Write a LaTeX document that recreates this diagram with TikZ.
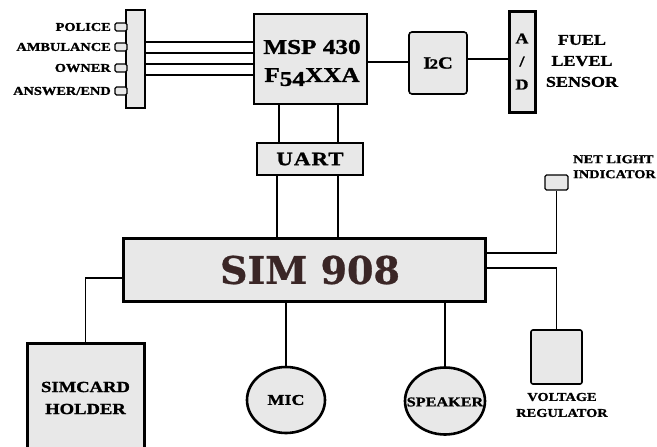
\documentclass[tikz,border=0pt]{standalone}
\usepackage{fontspec}
\setmainfont{Liberation Serif}
\newfontfamily\wide{Liberation Serif}[FakeStretch=1.2, BoldFeatures={FakeBold=1.2}]
\newfontfamily\simfont{DejaVu Serif}[BoldFeatures={FakeBold=0.8}]
\usetikzlibrary{shapes.geometric}
\definecolor{boxfill}{HTML}{E8E8E8}
\definecolor{simtext}{HTML}{3A2626}
\newcommand\myfs[2]{\fontsize{#1}{#2}\selectfont}
\begin{document}
\begin{tikzpicture}[x=1pt,y=-1pt,
  blk/.style={draw, fill=boxfill, line width=1.6pt, inner sep=0pt},
  heavy/.style={draw, fill=boxfill, line width=3pt, inner sep=0pt},
  tabbox/.style={draw, fill=boxfill, line width=1.1pt, rounded corners=1.5pt,
     minimum width=12pt, minimum height=8pt, inner sep=0pt},
  oval/.style={ellipse, draw, fill=boxfill, line width=2.6pt, inner sep=0pt},
  wire/.style={line width=1.3pt},
  lbl/.style={inner sep=0pt, font=\wide\bfseries\myfs{12}{15}},
]
\useasboundingbox (0,0) rectangle (657,447);

% left connector bar and tabs
\node[blk, minimum width=19pt, minimum height=98pt] (bar) at (135.5,59) {};
\node[tabbox] (t1) at (121,27) {};
\node[tabbox] (t2) at (121,47) {};
\node[tabbox] (t3) at (121,68) {};
\node[tabbox] (t4) at (121,91) {};
\node[lbl, anchor=east] (l1) at (111,27) {POLICE};
\node[lbl, anchor=east] (l2) at (111,47) {AMBULANCE};
\node[lbl, anchor=east] (l3) at (111,68) {OWNER};
\node[lbl, anchor=east] (l4) at (111,91) {ANSWER/END};

% MSP
\node[blk, minimum width=113pt, minimum height=90pt] (msp) at (310.5,59) {};
\node[inner sep=0pt, align=center, font=\wide\bfseries\myfs{21}{28}] (msplbl)
      at (312,63) {MSP 430\\F\raisebox{-4pt}{54}XXA};

% I2C
\node[blk, rounded corners=3pt, minimum width=58pt, minimum height=62pt,
      font=\wide\bfseries\myfs{17}{18}] (i2c) at (438,63)
      {I\kern-1.5pt{\myfs{14}{14}2}C};

% A/D
\node[heavy, minimum width=26pt, minimum height=101pt, align=center,
      font=\wide\bfseries\myfs{15}{23}] (ad) at (522,61.5) {A\\/\\D};

% fuel level sensor
\node[lbl, align=center, font=\wide\bfseries\myfs{15}{21}] (fuel) at (582,61)
      {FUEL\\LEVEL\\SENSOR};

% UART
\node[blk, minimum width=106pt, minimum height=32pt,
      font=\wide\bfseries\myfs{19}{19}] (uart) at (310,159)
      {\addfontfeature{LetterSpace=6}UART};

% SIM 908
\node[heavy, minimum width=362pt, minimum height=63pt] (sim) at (304,269.5) {};
\node[inner sep=0pt, text=simtext, font=\simfont\bfseries\myfs{38}{38}] (simlbl)
      at (310,270) {SIM 908};

% net light indicator
\node[tabbox, minimum width=23pt, minimum height=15pt] (net) at (556.5,182.5) {};
\node[lbl, anchor=north west, align=left] (netlbl) at (573,155)
      {NET LIGHT\\INDICATOR};

% voltage regulator
\node[blk, rounded corners=2pt, minimum width=51pt, minimum height=54pt] (vr)
      at (556.5,357) {};
\node[lbl, align=center, font=\wide\bfseries\myfs{12}{16}] (vrlbl) at (562,405)
      {VOLTAGE\\REGULATOR};

% mic and speaker
\node[oval, minimum width=78pt, minimum height=66pt,
      font=\wide\bfseries\myfs{15}{15}] (mic) at (286,400) {MIC};
\node[oval, minimum width=80pt, minimum height=67pt] (spk) at (445,401) {};
\node[inner sep=0pt, font=\wide\bfseries\myfs{13.5}{15}] (spklbl) at (445,402) {SPEAKER};

% simcard holder
\node[heavy, minimum width=117pt, minimum height=110pt, anchor=north] (simcard)
      at (85.5,342) {};
\node[lbl, align=center, font=\wide\bfseries\myfs{15.5}{22}] (sclbl) at (85.5,398)
      {SIMCARD\\HOLDER};

% connectors
\foreach \yy in {42,53,64,75}
  \draw[wire] (bar.east |- 0,\yy) -- (msp.west |- 0,\yy);
\draw[wire] (msp.east |- 0,62) -- (i2c.west |- 0,62);
\draw[wire] (i2c.east |- 0,59) -- (ad.west |- 0,59);
\draw[wire] (msp.south -| 279,0) -- (uart.north -| 279,0);
\draw[wire] (msp.south -| 338,0) -- (uart.north -| 338,0);
\draw[wire] (uart.south -| 277,0) -- (sim.north -| 277,0);
\draw[wire] (uart.south -| 338,0) -- (sim.north -| 338,0);
\draw[wire] (sim.east |- 0,253) -| (net.south);
\draw[wire] (sim.east |- 0,268) -| (vr.north);
\draw[wire] (sim.south -| mic.north) -- (mic.north);
\draw[wire] (sim.south -| spk.north) -- (spk.north);
\draw[wire] (sim.west |- 0,278) -| (simcard.north);
\end{tikzpicture}
\end{document}
